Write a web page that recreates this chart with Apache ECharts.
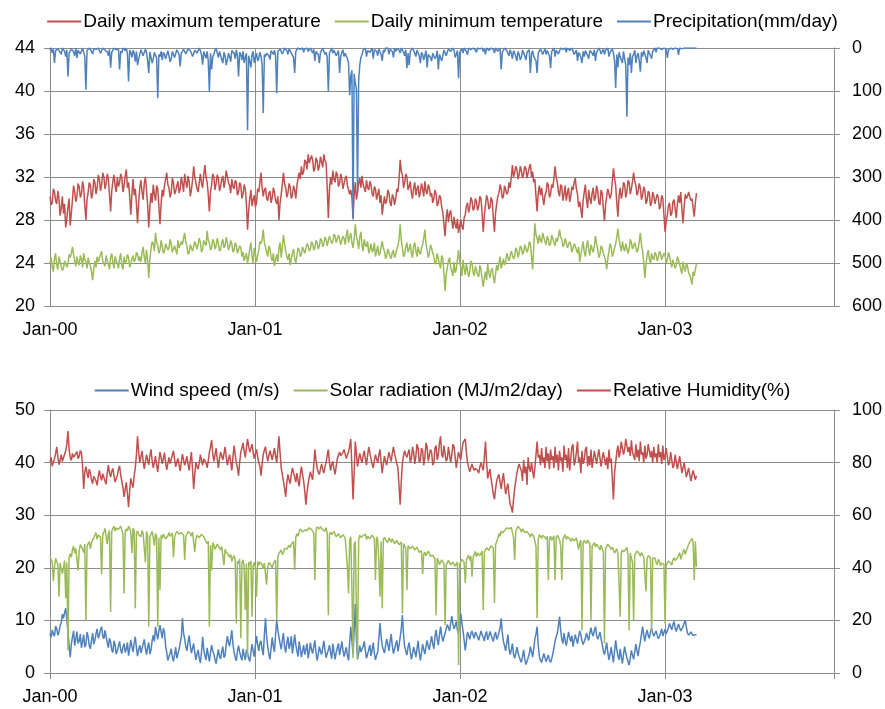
<!DOCTYPE html>
<html>
<head>
<meta charset="utf-8">
<script src="https://cdn.jsdelivr.net/npm/echarts@6/dist/echarts.min.js"></script>
<style>
  html, body { margin: 0; padding: 0; background: #fff; }
  #chart { width: 885px; height: 709px; }
</style>
</head>
<body>
<div id="chart"></div>
<script>
// one sample every 2 days starting 1 Jan 2000
const STEP = 2;
const yearLabels = ['Jan-00', 'Jan-01', 'Jan-02', 'Jan-03'];

// top panel
const tmax = [
  30.2, 29.4, 29.6, 30.9, 30.6, 29.8, 29.5, 30.7, 30.0, 28.4, 29.1, 30.2, 28.6, 29.5, 27.3, 28.1, 29.2, 30.0, 27.5, 28.6,
  29.9, 31.2, 30.6, 29.7, 30.2, 31.4, 31.1, 30.1, 30.4, 31.6, 31.0, 29.4, 28.0, 29.9, 30.6, 31.5, 31.2, 30.0, 30.5, 31.8,
  31.5, 30.4, 31.0, 32.2, 31.8, 30.7, 31.3, 32.4, 32.0, 30.9, 31.4, 32.3, 31.8, 30.4, 28.8, 30.7, 31.6, 32.2, 31.2, 30.6,
  32.0, 31.1, 31.5, 32.3, 31.9, 30.6, 31.2, 32.1, 32.7, 31.0, 31.5, 30.2, 28.5, 30.4, 31.8, 30.3, 30.9, 29.5, 27.7, 29.6,
  31.0, 31.7, 30.6, 29.9, 31.4, 32.0, 30.8, 29.4, 27.3, 29.2, 30.5, 29.6, 31.3, 30.4, 29.8, 31.2, 30.9, 29.3, 27.6, 29.5,
  30.8, 30.2, 31.2, 31.8, 32.4, 31.3, 31.0, 30.1, 30.5, 31.9, 31.5, 30.4, 30.7, 31.2, 31.6, 30.5, 30.9, 32.0, 31.4, 30.6,
  32.3, 31.5, 31.0, 32.1, 31.6, 30.2, 30.8, 31.7, 33.0, 32.0, 31.9, 30.9, 30.6, 31.5, 32.3, 31.4, 31.0, 32.2, 33.1, 32.0,
  31.5, 30.4, 28.8, 30.6, 31.3, 32.3, 32.0, 30.8, 31.4, 32.2, 31.9, 30.7, 31.1, 31.8, 32.1, 31.0, 31.6, 32.6, 32.5, 31.5,
  31.2, 30.5, 31.8, 31.1, 30.9, 31.7, 31.5, 30.3, 30.6, 31.5, 31.2, 30.0, 30.4, 31.3, 30.9, 29.5, 27.1, 28.9, 30.0, 30.8,
  29.3, 29.9, 30.3, 29.2, 29.6, 30.9, 30.6, 31.5, 32.4, 31.0, 30.2, 30.8, 31.0, 30.0, 29.8, 30.5, 30.7, 29.6, 30.1, 31.0,
  30.6, 29.8, 29.5, 30.2, 28.0, 29.6, 30.4, 31.3, 32.4, 31.4, 31.0, 30.1, 30.5, 31.4, 31.1, 30.0, 30.3, 31.2, 30.8, 30.0,
  31.2, 31.9, 32.4, 31.8, 33.0, 32.2, 32.5, 33.6, 33.4, 32.7, 34.1, 33.3, 33.2, 34.0, 33.6, 32.5, 32.8, 33.8, 33.5, 32.6,
  33.0, 33.9, 33.8, 32.9, 34.1, 33.5, 33.3, 31.0, 28.2, 30.9, 32.0, 31.3, 32.6, 31.8, 31.5, 32.5, 32.2, 31.1, 31.4, 32.3,
  31.8, 30.9, 31.0, 31.9, 32.1, 31.2, 31.3, 30.4, 30.8, 30.1, 28.2, 30.3, 31.5, 29.9, 30.6, 31.4, 31.9, 31.0, 32.1, 31.3,
  31.2, 30.6, 31.7, 31.0, 30.8, 31.6, 31.3, 30.4, 30.2, 31.1, 30.9, 29.9, 30.4, 30.9, 29.6, 30.3, 28.5, 29.4, 30.2, 29.5,
  29.8, 30.8, 30.5, 29.6, 29.3, 30.4, 30.1, 29.4, 30.0, 30.9, 30.6, 31.8, 33.6, 32.5, 32.2, 31.0, 31.5, 32.3, 32.0, 30.8,
  31.1, 31.6, 30.5, 30.0, 31.0, 31.5, 30.3, 30.9, 31.2, 30.1, 30.6, 31.4, 30.9, 30.2, 31.6, 30.7, 30.4, 31.3, 31.0, 30.2,
  30.5, 29.6, 30.0, 30.8, 30.4, 29.3, 29.6, 30.3, 30.1, 29.2, 28.7, 27.6, 26.5, 28.2, 29.0, 27.8, 28.6, 28.9, 27.9, 27.2,
  28.3, 27.6, 27.2, 28.1, 26.8, 27.5, 28.0, 27.4, 27.1, 28.2, 28.5, 29.3, 29.6, 28.7, 29.2, 30.1, 29.8, 28.9, 29.1, 30.0,
  29.7, 28.9, 29.3, 30.2, 30.0, 28.6, 26.9, 28.4, 29.4, 30.3, 29.9, 29.0, 29.2, 30.1, 29.8, 28.2, 26.9, 28.7, 29.5, 30.2,
  30.5, 31.3, 30.9, 30.0, 30.2, 31.2, 31.1, 30.4, 30.6, 31.5, 31.0, 32.0, 33.1, 32.0, 32.4, 33.0, 32.7, 31.8, 32.2, 33.0,
  32.6, 31.9, 32.3, 33.0, 32.8, 31.9, 32.4, 32.9, 33.2, 32.0, 32.5, 31.5, 31.8, 30.2, 28.8, 30.5, 31.2, 30.3, 31.0, 30.1,
  29.4, 30.3, 30.6, 31.5, 31.2, 30.1, 30.4, 31.3, 31.0, 31.9, 33.0, 32.0, 31.5, 30.6, 30.2, 31.3, 31.1, 29.8, 30.4, 31.2,
  29.8, 30.5, 31.0, 29.7, 30.2, 31.1, 30.8, 31.5, 31.9, 30.9, 30.4, 29.2, 29.7, 29.0, 28.2, 29.8, 30.6, 31.3, 29.9, 29.1,
  30.8, 30.0, 29.5, 30.5, 31.0, 29.8, 30.1, 31.2, 30.7, 29.6, 29.4, 30.8, 30.5, 29.1, 27.9, 29.4, 30.2, 30.9, 31.0, 30.0,
  30.4, 31.6, 32.8, 31.9, 31.2, 29.6, 28.3, 30.2, 31.0, 30.0, 30.5, 31.5, 31.3, 30.1, 30.6, 31.7, 31.5, 30.4, 30.9, 31.6,
  32.4, 31.6, 31.2, 30.3, 30.6, 31.4, 31.0, 29.9, 30.3, 31.1, 30.8, 29.5, 29.8, 30.7, 30.5, 29.3, 29.6, 30.6, 30.2, 29.5,
  29.4, 30.4, 30.1, 29.0, 29.3, 30.3, 30.0, 28.5, 26.9, 27.8, 28.4, 29.3, 29.6, 28.4, 28.6, 29.7, 29.9, 29.0, 28.2, 29.5,
  30.3, 29.6, 30.6, 29.0, 27.7, 29.2, 30.4, 30.0, 30.2, 30.6, 30.7, 29.8, 30.0, 29.1, 28.3, 29.6, 30.5
];

const tmin = [
  24.0, 24.5, 23.6, 23.2, 24.4, 24.9, 23.8, 23.4, 24.6, 24.1, 24.0, 23.3, 23.5, 24.2, 24.3, 23.6, 23.9, 24.8, 24.5, 24.9,
  25.5, 24.8, 24.2, 23.7, 24.6, 24.1, 23.8, 24.7, 24.4, 23.6, 24.9, 24.3, 24.1, 23.5, 24.5, 24.0, 23.7, 23.2, 22.4, 23.5,
  24.2, 23.6, 24.6, 24.1, 24.0, 24.8, 25.1, 24.2, 24.3, 23.7, 24.7, 24.2, 23.9, 23.4, 24.5, 24.9, 24.1, 23.5, 24.6, 24.2,
  24.0, 23.5, 24.4, 24.9, 23.8, 23.4, 24.6, 24.0, 24.2, 24.8, 24.5, 23.6, 23.9, 24.4, 24.7, 24.1, 24.3, 25.0, 24.8, 24.2,
  24.6, 24.1, 25.0, 25.5, 24.5, 24.0, 25.2, 24.3, 22.6, 24.4, 25.3, 26.0, 25.8, 25.1, 26.8, 25.9, 25.6, 24.9, 25.2, 26.1,
  25.6, 24.9, 25.1, 25.8, 25.9, 25.2, 25.4, 26.2, 25.8, 25.0, 24.9, 25.6, 25.5, 24.8, 26.1, 25.4, 25.3, 26.0, 25.7, 26.3,
  26.8, 25.9, 25.6, 24.8, 25.0, 25.7, 25.8, 25.1, 25.2, 26.0, 26.1, 25.3, 25.4, 26.3, 25.9, 25.0, 25.3, 26.1, 26.2, 25.6,
  27.0, 26.1, 25.9, 25.2, 25.4, 26.2, 26.0, 25.3, 25.6, 26.3, 25.8, 25.1, 25.3, 25.9, 26.2, 25.4, 25.6, 26.4, 25.9, 25.2,
  25.5, 26.1, 25.8, 25.0, 25.2, 25.9, 25.6, 24.9, 24.8, 25.6, 25.4, 24.6, 25.0, 24.2, 24.3, 24.9, 24.0, 24.6, 25.3, 25.9,
  24.6, 24.0, 25.4, 24.8, 24.1, 24.7, 25.2, 26.0, 25.8, 26.2, 27.1, 25.9, 25.5, 25.0, 24.6, 25.6, 25.3, 24.5, 24.2, 24.9,
  23.7, 24.3, 24.8, 24.1, 25.4, 25.9, 24.5, 25.5, 26.6, 25.8, 25.1, 24.6, 24.3, 24.9, 23.8, 24.4, 24.9, 25.3, 24.4, 24.0,
  24.7, 25.4, 25.2, 24.6, 24.8, 25.5, 25.4, 24.9, 25.0, 25.8, 25.6, 25.1, 25.3, 26.0, 25.8, 25.2, 25.4, 26.1, 25.9, 25.3,
  25.6, 26.3, 26.1, 25.5, 25.8, 26.4, 26.2, 25.6, 25.7, 26.5, 26.4, 25.8, 26.0, 26.7, 26.5, 25.9, 25.9, 26.6, 26.3, 25.7,
  25.8, 26.5, 26.3, 25.7, 26.6, 27.1, 25.9, 26.4, 26.8, 25.9, 25.4, 26.3, 27.6, 26.5, 26.0, 25.3, 26.4, 26.9, 25.6, 25.1,
  26.2, 25.7, 25.5, 26.0, 24.9, 25.3, 25.8, 25.0, 25.2, 25.9, 24.6, 25.1, 25.6, 24.7, 24.9, 25.5, 26.0, 25.4, 25.1, 24.4,
  24.7, 25.3, 25.4, 24.6, 24.4, 25.0, 25.2, 24.5, 24.8, 25.3, 25.6, 26.2, 27.6, 26.1, 25.4, 24.6, 24.8, 25.5, 25.9, 25.0,
  25.3, 25.8, 24.9, 24.5, 25.6, 25.9, 25.1, 24.6, 25.5, 25.0, 24.8, 25.4, 25.7, 26.3, 27.1, 25.8, 25.2, 24.5, 24.9, 25.7,
  25.4, 24.9, 24.6, 23.9, 24.1, 24.9, 24.8, 23.9, 23.5, 24.7, 24.4, 23.0, 21.4, 22.9, 23.6, 24.2, 24.5, 23.6, 23.2, 22.8,
  24.1, 23.1, 23.4, 24.3, 25.2, 24.2, 23.6, 22.8, 24.3, 23.5, 22.9, 23.9, 23.8, 22.7, 23.2, 24.2, 24.0, 23.1, 22.8, 23.7,
  23.6, 22.9, 22.7, 23.8, 23.4, 22.5, 21.8, 22.6, 23.2, 22.4, 23.9, 23.1, 22.6, 23.3, 23.5, 22.7, 22.1, 23.0, 23.8, 23.3,
  24.0, 24.6, 23.5, 23.9, 24.4, 23.8, 24.1, 24.9, 24.8, 24.2, 24.3, 25.1, 25.0, 24.4, 24.6, 25.4, 25.2, 24.5, 24.9, 25.6,
  25.4, 24.8, 25.0, 25.7, 25.6, 25.0, 25.3, 26.0, 25.8, 24.6, 23.4, 25.5, 27.7, 26.6, 26.3, 25.8, 26.6, 26.1, 25.9, 26.8,
  26.4, 26.0, 25.7, 26.5, 26.2, 25.6, 25.8, 26.6, 26.5, 25.9, 25.6, 26.3, 26.0, 26.5, 27.1, 26.4, 26.2, 25.5, 25.7, 26.3,
  25.9, 25.4, 25.3, 26.0, 25.7, 25.0, 25.1, 25.8, 25.6, 25.2, 24.9, 25.5, 24.1, 24.8, 25.4, 26.0, 25.0, 24.6, 25.6, 26.1,
  25.2, 24.7, 25.7, 25.3, 25.0, 25.6, 26.5, 25.8, 25.3, 24.5, 24.8, 25.6, 25.4, 24.9, 24.6, 24.2, 23.4, 24.4, 25.1, 25.8,
  25.5, 24.6, 24.9, 25.4, 25.8, 26.4, 27.2, 26.2, 25.6, 25.1, 26.0, 25.4, 25.1, 25.8, 25.7, 24.9, 25.3, 26.2, 25.9, 25.3,
  25.2, 25.9, 25.8, 25.0, 25.3, 26.0, 26.8, 25.7, 25.1, 24.0, 22.6, 23.9, 24.7, 25.2, 24.4, 23.9, 24.9, 24.5, 24.3, 25.0,
  24.8, 24.2, 24.5, 25.1, 24.9, 24.3, 24.2, 24.9, 24.7, 24.0, 24.3, 25.0, 24.6, 24.1, 23.6, 24.3, 24.4, 23.5, 23.8, 24.6,
  24.5, 23.9, 23.4, 23.0, 24.1, 23.5, 23.2, 24.0, 23.7, 23.1, 22.9, 22.5, 22.0, 23.2, 22.8, 23.4, 23.9
];

const precip = [
  5, 0, 12, 3, 35, 6, 8, 2, 0, 10, 15, 0, 3, 8, 20, 4, 66, 12, 10, 2,
  4, 9, 18, 0, 23, 5, 6, 14, 12, 0, 2, 20, 97, 6, 10, 0, 3, 8, 14, 2,
  0, 3, 6, 0, 2, 12, 10, 0, 0, 5, 4, 9, 18, 3, 46, 10, 5, 0, 0, 4,
  8, 2, 50, 7, 12, 0, 3, 6, 0, 14, 78, 5, 10, 22, 5, 12, 32, 8, 40, 26,
  15, 4, 6, 18, 22, 3, 10, 30, 58, 9, 12, 35, 25, 10, 8, 24, 116, 15, 20, 8,
  28, 10, 15, 26, 30, 6, 18, 32, 25, 8, 12, 22, 20, 4, 8, 15, 43, 12, 10, 3,
  5, 14, 12, 2, 0, 6, 8, 20, 18, 5, 4, 12, 10, 0, 6, 16, 39, 8, 12, 24,
  8, 30, 101, 12, 50, 20, 15, 5, 0, 12, 22, 8, 10, 26, 35, 10, 18, 40, 28, 12,
  20, 32, 6, 10, 12, 25, 4, 18, 66, 10, 15, 28, 8, 35, 22, 12, 191, 18, 30, 45,
  15, 8, 35, 22, 12, 30, 25, 10, 18, 40, 151, 15, 20, 12, 8, 18, 27, 6, 10, 15,
  5, 20, 105, 8, 12, 2, 3, 14, 8, 0, 0, 6, 15, 2, 4, 12, 10, 22, 58, 8,
  6, 0, 0, 3, 4, 0, 10, 2, 2, 0, 8, 4, 0, 6, 12, 3, 30, 8, 5, 15,
  35, 10, 8, 0, 4, 15, 10, 22, 101, 12, 6, 0, 12, 5, 3, 18, 15, 6, 58, 20,
  10, 4, 20, 12, 8, 25, 35, 110, 65, 52, 399, 60, 81, 95, 337, 75, 40, 22, 15, 5,
  8, 0, 20, 6, 5, 10, 12, 0, 25, 4, 3, 8, 18, 2, 6, 15, 30, 5, 10, 0,
  4, 0, 15, 3, 2, 8, 22, 0, 8, 2, 0, 5, 12, 0, 5, 10, 18, 4, 47, 12,
  40, 8, 10, 0, 3, 12, 20, 5, 8, 18, 35, 10, 15, 28, 25, 6, 45, 15, 12, 22,
  30, 12, 8, 25, 20, 6, 50, 15, 12, 30, 28, 5, 6, 18, 15, 2, 3, 8, 10, 0,
  5, 22, 15, 6, 70, 10, 8, 2, 12, 0, 3, 8, 16, 0, 0, 4, 6, 0, 2, 5,
  10, 0, 4, 2, 0, 0, 8, 3, 15, 0, 2, 6, 6, 0, 0, 3, 12, 0, 4, 8,
  6, 0, 50, 10, 8, 0, 2, 6, 10, 18, 4, 12, 25, 6, 12, 20, 30, 8, 15, 28,
  22, 5, 8, 18, 28, 10, 12, 4, 58, 15, 6, 20, 18, 30, 58, 12, 10, 2, 4, 15,
  8, 2, 15, 6, 3, 18, 47, 8, 10, 0, 20, 5, 6, 14, 12, 0, 0, 3, 5, 0,
  10, 0, 2, 6, 8, 0, 4, 15, 12, 5, 30, 10, 15, 22, 35, 8, 20, 6, 12, 18,
  25, 6, 8, 12, 18, 4, 30, 10, 12, 0, 5, 14, 10, 2, 15, 6, 4, 0, 20, 10,
  8, 2, 12, 30, 93, 15, 45, 10, 20, 28, 35, 8, 25, 40, 160, 22, 40, 12, 58, 20,
  15, 5, 35, 18, 12, 30, 55, 10, 20, 6, 8, 22, 35, 5, 12, 18, 25, 8, 6, 0,
  10, 0, 3, 0, 0, 4, 8, 0, 4, 2, 23, 5, 2, 0, 0, 3, 6, 0, 0, 2,
  16, 0, 0, 2, 4, 0, 0, 0, 2, 0, 0, 0, 0, 0, 1, 0, 0
];

// bottom panel
const wind = [
  7.5, 6.8, 8.2, 7.4, 7.0, 8.9, 8.5, 7.2, 7.8, 9.0, 9.5, 11.2, 10.4, 11.5, 12.3, 10.1, 8.0, 5.2, 3.0, 5.5,
  6.8, 8.0, 5.2, 6.5, 7.9, 5.6, 6.1, 7.4, 4.8, 6.0, 7.3, 4.9, 5.5, 7.8, 6.9, 5.2, 4.6, 6.3, 7.6, 5.5,
  6.2, 7.5, 8.4, 6.6, 7.2, 8.3, 8.8, 7.0, 6.5, 8.1, 7.9, 5.8, 4.8, 6.6, 5.9, 4.4, 3.9, 6.1, 5.4, 3.6,
  4.2, 5.1, 6.0, 4.4, 3.7, 4.9, 5.6, 3.9, 4.5, 5.8, 3.3, 4.6, 6.3, 5.0, 4.0, 5.7, 6.9, 4.8, 3.2, 4.5,
  5.3, 3.8, 4.1, 5.5, 6.4, 4.7, 3.5, 4.9, 5.8, 3.6, 4.4, 6.1, 7.2, 6.0, 8.8, 7.5, 6.4, 8.0, 9.1, 7.8,
  6.6, 8.5, 7.8, 5.2, 3.9, 2.4, 2.6, 3.8, 4.6, 3.0, 2.2, 3.5, 4.9, 2.8, 3.1, 4.5, 4.2, 6.8, 10.4, 7.6,
  6.5, 5.0, 4.2, 5.9, 7.1, 5.2, 3.8, 4.7, 5.6, 3.9, 2.5, 3.6, 4.4, 2.8, 1.9, 4.0, 6.9, 4.5, 3.3, 2.5,
  4.8, 3.5, 2.2, 3.9, 5.3, 4.2, 3.6, 2.6, 1.8, 3.2, 4.5, 3.1, 2.7, 4.1, 5.0, 2.9, 3.4, 5.4, 7.0, 5.8,
  5.1, 6.6, 8.1, 5.5, 4.0, 3.0, 2.3, 4.1, 5.2, 4.0, 3.1, 2.4, 4.6, 3.3, 2.5, 4.4, 3.8, 2.8, 2.2, 3.9,
  5.5, 4.2, 3.1, 5.3, 7.0, 5.4, 4.2, 5.7, 6.1, 4.5, 3.4, 7.2, 10.4, 7.0, 5.0, 3.6, 2.6, 4.8, 6.8, 5.0,
  4.0, 7.4, 10.0, 8.2, 6.8, 5.6, 4.5, 6.2, 7.6, 5.0, 3.9, 5.7, 6.9, 4.6, 5.4, 7.0, 3.7, 5.5, 7.3, 5.4,
  4.2, 3.1, 6.0, 4.6, 3.0, 4.2, 5.3, 3.5, 4.5, 5.6, 2.8, 4.1, 5.8, 4.4, 3.7, 5.0, 6.2, 3.9, 2.4, 3.6,
  5.0, 4.1, 3.5, 4.8, 6.1, 4.3, 2.9, 3.7, 4.4, 5.3, 3.8, 2.7, 5.6, 4.0, 2.6, 3.9, 4.8, 5.6, 3.4, 4.6,
  6.0, 4.4, 3.1, 4.0, 4.9, 3.3, 2.4, 5.8, 8.8, 6.2, 3.5, 8.0, 13.1, 6.5, 2.6, 3.8, 5.2, 4.0, 3.7, 5.1,
  6.0, 4.2, 2.8, 3.6, 4.5, 5.3, 3.2, 4.4, 5.8, 3.7, 2.5, 3.4, 4.0, 6.6, 9.5, 7.0, 5.2, 4.4, 3.8, 5.2,
  6.5, 5.5, 4.2, 6.0, 7.4, 5.1, 3.7, 4.6, 5.5, 6.2, 4.1, 5.3, 6.8, 8.5, 11.0, 7.2, 5.0, 4.2, 3.4, 4.9,
  5.8, 4.0, 2.6, 3.7, 4.9, 4.1, 3.0, 4.6, 6.1, 3.9, 2.4, 3.8, 5.5, 4.5, 3.6, 5.0, 6.2, 5.1, 4.4, 5.8,
  7.0, 5.6, 4.6, 6.9, 8.2, 6.4, 5.3, 7.2, 8.8, 7.1, 6.0, 6.8, 7.5, 8.4, 9.2, 8.6, 8.0, 9.5, 10.8, 9.3,
  8.4, 9.0, 9.8, 8.1, 7.6, 9.7, 11.3, 9.5, 8.0, 6.2, 4.3, 6.0, 7.8, 7.2, 6.4, 7.5, 8.0, 7.1, 6.6, 7.8,
  7.5, 6.9, 6.2, 7.1, 8.0, 7.3, 6.8, 6.1, 7.4, 7.9, 6.3, 7.0, 7.9, 7.2, 6.5, 6.0, 7.2, 7.8, 6.4, 6.9,
  7.0, 8.5, 10.4, 7.6, 6.0, 5.1, 4.2, 5.8, 7.3, 4.6, 3.5, 4.4, 5.6, 3.6, 2.8, 3.7, 4.9, 3.9, 3.1, 2.5,
  2.0, 3.1, 4.4, 2.7, 1.6, 2.2, 2.5, 3.6, 5.0, 4.1, 3.0, 4.6, 6.5, 7.4, 8.8, 5.3, 3.2, 2.4, 2.0, 2.9,
  3.7, 2.9, 2.2, 2.8, 3.4, 2.5, 2.0, 2.7, 3.6, 4.8, 6.0, 6.9, 7.5, 9.0, 10.7, 8.1, 6.4, 5.6, 7.6, 6.2,
  5.2, 6.5, 7.8, 6.7, 6.0, 7.1, 5.0, 6.2, 7.3, 6.4, 5.6, 6.9, 8.0, 7.2, 6.1, 5.4, 5.2, 6.6, 7.6, 6.8,
  6.2, 7.6, 8.6, 7.5, 7.0, 8.1, 8.8, 7.2, 6.4, 7.0, 7.8, 6.5, 5.5, 4.2, 3.5, 4.6, 5.8, 3.9, 2.5, 3.6,
  4.9, 3.4, 2.0, 4.1, 6.2, 4.5, 3.3, 2.5, 4.6, 3.0, 1.8, 3.6, 5.0, 3.8, 2.9, 2.2, 1.5, 2.8, 4.3, 3.4,
  2.6, 4.0, 5.5, 4.2, 3.2, 4.8, 5.9, 7.4, 8.8, 7.2, 6.0, 7.4, 8.2, 7.1, 6.6, 7.8, 8.5, 7.6, 7.0, 7.5,
  8.0, 7.2, 6.5, 7.0, 7.6, 8.4, 7.0, 7.7, 8.3, 7.4, 7.5, 8.6, 9.4, 8.8, 8.2, 9.2, 9.8, 8.5, 7.9, 8.7,
  9.3, 8.6, 8.0, 8.4, 8.8, 9.5, 10.0, 8.7, 7.6, 7.2, 7.0, 7.8, 7.5, 7.1, 6.9, 7.3, 7.2
];

const solar = [
  22.1, 21.6, 21.0, 17.5, 20.2, 21.8, 21.5, 20.6, 14.5, 20.9, 21.2, 18.9, 20.0, 21.4, 14.2, 21.0, 4.3, 21.9, 22.7, 22.0,
  23.5, 24.1, 22.8, 23.7, 24.0, 19.5, 23.2, 24.4, 24.3, 23.6, 22.9, 24.5, 10.0, 24.0, 24.6, 25.0, 23.6, 24.8, 25.1, 25.7,
  26.0, 26.7, 25.4, 26.2, 26.5, 25.9, 18.8, 26.3, 26.8, 27.5, 27.3, 24.5, 26.4, 27.1, 11.6, 26.9, 27.5, 27.9, 27.0, 27.6,
  27.8, 27.3, 27.2, 27.9, 27.6, 26.4, 15.1, 26.9, 27.4, 27.0, 27.9, 27.5, 26.8, 22.8, 27.5, 27.1, 12.3, 26.6, 27.0, 26.3,
  26.6, 25.9, 27.1, 26.5, 26.2, 21.0, 26.9, 26.1, 8.8, 25.9, 26.4, 26.9, 25.8, 24.2, 26.5, 26.0, 8.8, 25.7, 15.8, 26.2,
  25.6, 26.4, 26.2, 25.5, 25.3, 26.1, 26.7, 26.0, 25.9, 26.6, 22.0, 25.8, 26.5, 26.9, 27.0, 26.4, 26.1, 26.7, 26.8, 26.2,
  21.5, 26.0, 26.4, 26.9, 27.2, 26.5, 26.0, 26.8, 26.7, 23.0, 25.5, 26.2, 26.3, 25.7, 25.8, 26.4, 26.5, 25.9, 25.4, 25.0,
  24.6, 25.1, 8.8, 24.3, 19.5, 24.8, 24.2, 23.5, 23.6, 24.5, 24.4, 23.8, 23.4, 24.1, 24.0, 20.5, 23.5, 23.0, 22.7, 22.4,
  22.0, 22.6, 21.2, 21.9, 22.3, 21.5, 9.4, 21.3, 20.8, 21.7, 6.6, 20.9, 21.5, 20.2, 12.0, 20.8, 3.0, 21.1, 20.5, 21.3,
  10.7, 20.4, 21.0, 20.1, 14.5, 21.2, 20.5, 21.1, 21.4, 20.6, 19.8, 20.9, 21.0, 16.8, 20.2, 21.0, 21.3, 20.5, 19.9, 20.8,
  20.6, 21.5, 10.0, 22.1, 22.7, 23.0, 23.4, 22.5, 22.9, 23.7, 24.0, 23.5, 23.3, 24.3, 23.8, 24.5, 24.2, 25.0, 19.6, 25.8,
  26.5, 26.0, 26.9, 27.4, 27.3, 26.8, 26.6, 27.2, 27.5, 27.1, 27.0, 27.6, 27.7, 27.3, 27.2, 26.6, 17.7, 27.1, 27.8, 27.5,
  27.4, 27.8, 27.9, 27.2, 27.5, 27.0, 27.6, 26.5, 11.0, 26.4, 26.8, 26.3, 26.2, 26.9, 26.6, 25.9, 25.8, 26.5, 26.3, 25.7,
  25.6, 26.3, 26.1, 25.7, 25.4, 20.0, 15.1, 25.2, 25.9, 16.0, 2.8, 24.5, 25.0, 12.0, 2.8, 25.3, 26.2, 25.8, 25.5, 26.1,
  26.0, 26.4, 25.4, 26.0, 26.3, 25.5, 25.7, 26.2, 26.1, 25.6, 17.7, 25.9, 25.3, 21.0, 14.5, 25.0, 12.3, 25.4, 25.8, 25.3,
  25.2, 24.8, 25.7, 25.3, 24.9, 25.5, 25.4, 24.6, 24.7, 25.2, 25.1, 24.4, 24.5, 24.9, 11.3, 24.6, 24.3, 23.7, 15.8, 24.2,
  24.0, 23.6, 23.5, 24.1, 24.2, 23.4, 23.2, 23.9, 23.8, 22.9, 22.8, 23.3, 18.8, 22.6, 23.0, 22.3, 22.4, 23.2, 23.1, 22.2,
  21.9, 22.4, 22.5, 21.7, 11.0, 21.8, 21.4, 20.6, 20.9, 21.5, 21.6, 20.8, 9.1, 20.5, 20.8, 21.4, 21.3, 20.6, 20.4, 21.1,
  21.0, 20.3, 20.5, 21.1, 1.5, 20.7, 21.2, 21.6, 21.8, 21.0, 17.1, 21.5, 22.0, 22.4, 21.4, 22.2, 18.3, 22.0, 22.6, 23.1,
  22.1, 22.8, 23.0, 22.3, 22.4, 23.2, 12.0, 23.0, 23.4, 23.8, 24.0, 23.3, 23.1, 24.2, 24.3, 23.7, 13.3, 24.4, 24.6, 25.6,
  26.5, 26.0, 27.0, 26.6, 26.4, 27.1, 27.3, 27.6, 27.8, 27.4, 27.1, 27.7, 27.6, 25.8, 21.5, 27.0, 27.4, 27.9, 27.8, 27.3,
  26.8, 27.4, 27.2, 26.7, 26.4, 26.9, 27.0, 26.3, 25.8, 26.5, 26.6, 26.0, 25.9, 24.1, 10.4, 25.5, 26.3, 26.0, 25.6, 26.2,
  26.1, 25.8, 25.4, 26.0, 17.7, 25.6, 26.0, 25.2, 25.5, 26.1, 17.7, 25.7, 26.2, 25.9, 25.3, 24.2, 17.7, 25.4, 25.9, 26.3,
  25.4, 25.9, 26.1, 25.5, 25.0, 25.6, 25.8, 25.1, 24.9, 25.7, 25.6, 23.5, 24.7, 25.3, 8.1, 24.8, 25.2, 25.0, 24.6, 25.3,
  25.0, 24.5, 10.0, 24.1, 24.4, 24.8, 24.0, 24.5, 24.6, 23.9, 23.4, 24.3, 24.2, 23.0, 5.6, 23.6, 23.8, 24.5, 24.3, 23.9,
  23.5, 23.9, 24.0, 22.8, 23.2, 23.6, 22.6, 17.0, 10.7, 22.9, 23.4, 23.0, 22.8, 23.5, 23.9, 22.4, 8.1, 22.8, 22.6, 21.0,
  10.0, 22.4, 22.8, 23.2, 23.5, 22.7, 22.2, 22.9, 23.0, 22.1, 22.4, 15.5, 21.7, 22.3, 22.6, 22.0, 7.8, 21.8, 21.5, 21.9,
  21.0, 20.6, 21.6, 21.2, 20.4, 20.9, 21.2, 20.7, 9.4, 20.5, 20.8, 21.3, 21.4, 20.9, 20.5, 21.5, 21.9, 21.4, 21.2, 21.9,
  22.4, 22.9, 21.6, 22.3, 23.0, 23.5, 22.5, 23.3, 23.8, 24.5, 24.4, 25.2, 25.6, 24.9, 17.7, 25.0, 20.2
];

const rh = [
  80.4, 82.0, 78.6, 80.2, 81.5, 83.4, 86.0, 82.2, 79.2, 81.0, 83.0, 80.4, 81.0, 83.2, 84.5, 87.0, 92.0, 85.0, 82.0, 80.8,
  83.5, 82.0, 81.8, 83.4, 84.2, 81.5, 82.4, 84.6, 83.8, 79.0, 70.0, 76.4, 78.5, 76.0, 74.2, 77.5, 76.0, 73.4, 72.0, 74.8,
  75.5, 73.0, 71.4, 74.8, 77.0, 74.6, 73.2, 75.8, 76.3, 73.0, 71.8, 76.0, 79.0, 76.2, 74.5, 76.6, 77.8, 75.0, 72.6, 74.0,
  75.0, 77.4, 78.8, 75.2, 73.0, 70.5, 67.0, 70.0, 72.5, 68.0, 63.0, 69.5, 74.0, 72.0, 70.5, 75.0, 78.0, 83.0, 90.0, 84.0,
  80.0, 82.2, 84.5, 80.5, 77.6, 80.4, 83.0, 81.0, 79.2, 82.6, 85.0, 80.8, 78.0, 80.0, 82.5, 79.0, 76.5, 80.6, 84.0, 81.8,
  79.5, 81.6, 83.8, 80.0, 77.2, 79.8, 82.0, 79.6, 80.0, 82.8, 84.5, 81.2, 78.4, 80.2, 81.6, 79.0, 76.8, 80.4, 83.2, 81.0,
  79.0, 80.6, 82.4, 79.4, 77.0, 80.8, 84.0, 77.5, 70.0, 75.6, 80.2, 78.6, 77.5, 80.0, 83.0, 80.8, 79.0, 81.4, 82.0, 80.0,
  78.0, 80.6, 84.0, 86.0, 88.6, 83.4, 80.5, 83.0, 85.5, 81.6, 78.0, 81.4, 84.0, 82.6, 81.0, 83.4, 86.0, 82.2, 79.0, 81.0,
  83.0, 80.4, 77.0, 82.0, 86.5, 83.0, 80.0, 78.0, 75.0, 80.2, 84.0, 85.6, 87.5, 84.4, 82.0, 85.6, 89.0, 86.2, 84.0, 85.4,
  87.0, 84.0, 81.5, 83.4, 85.0, 82.4, 80.0, 78.6, 75.0, 79.4, 83.0, 84.8, 86.0, 83.0, 80.5, 82.6, 84.5, 82.8, 81.0, 83.4,
  85.5, 82.4, 80.0, 85.0, 90.0, 83.6, 78.0, 75.4, 73.0, 70.2, 67.0, 72.4, 75.5, 73.4, 72.0, 75.6, 78.0, 76.2, 74.5, 72.6,
  76.0, 73.2, 71.0, 75.4, 78.5, 75.6, 73.0, 69.0, 64.0, 68.6, 72.0, 74.6, 76.5, 74.8, 73.5, 79.0, 85.0, 81.0, 78.0, 76.4,
  75.5, 77.6, 79.5, 77.4, 76.0, 78.4, 80.0, 82.8, 85.0, 80.0, 77.0, 79.2, 80.5, 77.6, 75.5, 78.6, 81.5, 82.8, 84.0, 82.6,
  82.0, 83.8, 85.0, 83.2, 81.5, 83.0, 84.0, 86.4, 89.0, 78.0, 66.0, 76.0, 88.0, 83.4, 78.5, 81.2, 83.5, 81.4, 80.0, 82.6,
  84.5, 81.6, 79.0, 82.8, 86.0, 83.6, 81.5, 79.4, 78.0, 80.8, 83.0, 81.4, 80.0, 82.8, 85.0, 80.2, 76.0, 79.6, 82.5, 80.4,
  79.0, 81.8, 84.0, 82.0, 80.5, 83.6, 86.0, 83.4, 81.5, 79.6, 78.0, 71.0, 64.0, 73.0, 80.0, 82.6, 84.5, 83.0, 82.0, 83.6,
  85.0, 80.0, 81.5, 86.0, 84.0, 79.5, 82.5, 87.0, 85.5, 80.0, 81.0, 85.5, 84.5, 79.0, 82.0, 87.5, 86.0, 80.5, 81.0, 85.0,
  84.0, 79.0, 80.0, 85.5, 86.5, 81.0, 83.0, 87.5, 90.0, 83.0, 82.0, 86.5, 87.0, 80.5, 81.5, 86.0, 85.5, 80.0, 83.0, 87.0,
  86.0, 82.0, 78.0, 81.2, 84.0, 82.4, 81.0, 84.6, 87.5, 88.2, 89.0, 84.0, 80.0, 78.2, 76.5, 78.0, 79.5, 78.0, 77.0, 77.8,
  78.5, 77.0, 76.0, 78.4, 80.0, 78.4, 77.0, 82.0, 88.0, 80.0, 74.0, 76.0, 77.5, 74.0, 71.0, 68.0, 66.0, 70.0, 73.0, 74.6,
  75.5, 72.6, 70.0, 73.4, 76.0, 71.6, 68.0, 70.4, 72.0, 67.6, 64.0, 63.0, 61.0, 66.0, 70.0, 73.0, 76.0, 78.0, 79.5, 78.0,
  77.0, 73.0, 81.0, 76.0, 78.5, 71.5, 82.0, 78.0, 76.5, 80.0, 80.5, 74.0, 78.0, 83.0, 88.0, 82.0, 83.0, 79.0, 85.5, 80.0,
  82.0, 78.0, 86.0, 80.5, 83.5, 77.5, 85.0, 81.0, 82.5, 78.0, 86.0, 80.0, 83.0, 77.0, 84.5, 80.5, 82.0, 76.5, 86.5, 81.0,
  83.0, 78.0, 85.5, 77.0, 81.5, 86.0, 87.0, 79.0, 80.5, 84.0, 88.0, 80.0, 82.0, 76.0, 84.5, 79.5, 81.0, 85.0, 86.0, 78.5,
  82.5, 79.0, 85.0, 78.0, 81.0, 84.5, 84.0, 79.5, 82.5, 85.0, 85.5, 78.5, 81.5, 84.0, 84.0, 79.0, 82.0, 77.5, 85.0, 80.0,
  81.5, 74.0, 66.0, 76.0, 80.0, 84.0, 86.5, 82.0, 84.0, 88.0, 88.0, 83.0, 85.0, 89.0, 89.0, 84.0, 86.0, 82.5, 88.5, 84.0,
  84.5, 81.0, 87.0, 82.0, 85.0, 80.5, 88.0, 83.0, 84.0, 80.0, 86.5, 81.5, 83.0, 87.0, 87.5, 82.0, 84.5, 80.0, 86.0, 82.0,
  83.5, 80.0, 87.0, 82.0, 84.0, 79.5, 86.5, 81.0, 82.5, 85.5, 85.5, 79.0, 80.0, 84.0, 84.5, 78.0, 79.0, 83.0, 83.0, 77.5,
  78.0, 82.5, 82.0, 76.0, 76.5, 80.0, 80.0, 74.5, 74.0, 78.0, 78.0, 73.0, 73.5, 77.0, 77.0, 73.5, 75.0
];

const RED = '#C0504D';
const GREEN = '#9BBB59';
const BLUE = '#4F81BD';
const GRID_GRAY = '#8C8C8C';
const FONT = 'Liberation Sans, Arial, sans-serif';

function toPairs(arr) {
  return arr.map(function (v, i) { return [i * STEP, v]; });
}

function yearLabel(v) {
  let n = Math.round(v / 365.25);
  if (Math.abs(v - n * 365.25) < 1 && n < yearLabels.length) return yearLabels[n];
  return '';
}

function xAxis(gridIndex) {
  return {
    type: 'value', gridIndex: gridIndex,
    min: 0, max: 1397, interval: 365.25,
    axisLine: { show: true, lineStyle: { color: GRID_GRAY, width: 1 } },
    axisTick: { show: true, length: 6, lineStyle: { color: GRID_GRAY } },
    splitLine: { show: true, lineStyle: { color: GRID_GRAY, width: 1 } },
    axisLabel: { formatter: yearLabel, color: '#000', fontSize: 18, fontFamily: FONT, margin: 15 }
  };
}

function yAxis(gridIndex, position, min, max, interval, extra) {
  let axis = {
    type: 'value', gridIndex: gridIndex, position: position,
    min: min, max: max, interval: interval,
    axisLine: { show: true, lineStyle: { color: GRID_GRAY, width: 1 } },
    axisTick: { show: true, length: 6, lineStyle: { color: GRID_GRAY } },
    splitLine: { show: position === 'left', lineStyle: { color: GRID_GRAY, width: 1 } },
    axisLabel: { color: '#000', fontSize: 18, fontFamily: FONT, margin: position === 'left' ? 15 : 18 }
  };
  return Object.assign(axis, extra || {});
}

function lineSeries(name, data, color, xi, yi) {
  return {
    name: name, type: 'line', xAxisIndex: xi, yAxisIndex: yi,
    data: toPairs(data), symbol: 'none', showSymbol: false,
    lineStyle: { color: color, width: 1.5 },
    itemStyle: { color: color },
    animation: false
  };
}

const legendStyle = {
  icon: 'rect', itemWidth: 34, itemHeight: 2, itemGap: 14,
  textStyle: { color: '#000', fontSize: 19, fontFamily: FONT, padding: [0, 0, 0, -3] }
};

const chart = echarts.init(document.getElementById('chart'), null, { renderer: 'canvas' });
chart.setOption({
  backgroundColor: '#fff',
  animation: false,
  legend: [
    Object.assign({ top: 7, left: 'center', data: ['Daily maximum temperature', 'Daily minimum temperature', 'Precipitation(mm/day)'] }, legendStyle),
    Object.assign({ top: 376, left: 'center', data: ['Wind speed (m/s)', 'Solar radiation (MJ/m2/day)', 'Relative Humidity(%)'] }, legendStyle)
  ],
  grid: [
    { left: 50, right: 51, top: 48, height: 258 },
    { left: 50, right: 50, top: 410, height: 263 }
  ],
  xAxis: [xAxis(0), xAxis(1)],
  yAxis: [
    yAxis(0, 'left', 20, 44, 4),
    yAxis(0, 'right', 0, 600, 100, { inverse: true }),
    yAxis(1, 'left', 0, 50, 10),
    yAxis(1, 'right', 0, 100, 20)
  ],
  series: [
    lineSeries('Daily maximum temperature', tmax, RED, 0, 0),
    lineSeries('Daily minimum temperature', tmin, GREEN, 0, 0),
    lineSeries('Precipitation(mm/day)', precip, BLUE, 0, 1),
    lineSeries('Wind speed (m/s)', wind, BLUE, 1, 2),
    lineSeries('Solar radiation (MJ/m2/day)', solar, GREEN, 1, 2),
    lineSeries('Relative Humidity(%)', rh, RED, 1, 3)
  ]
});
</script>
</body>
</html>
